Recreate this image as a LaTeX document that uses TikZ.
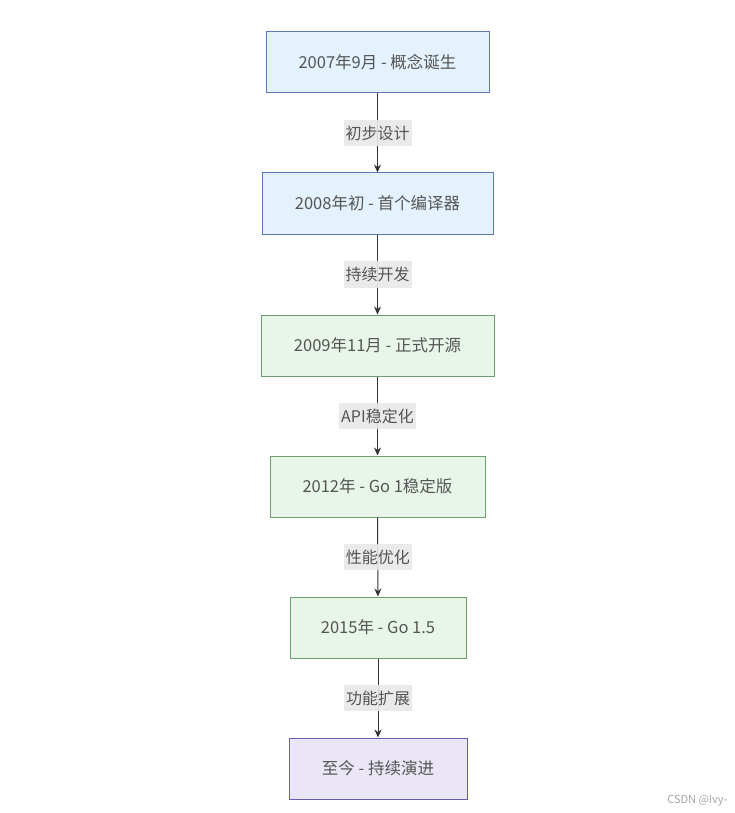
\documentclass[tikz,border=0pt]{standalone}
\usepackage{fontspec}
\setmainfont{Noto Sans CJK SC}
\usetikzlibrary{arrows.meta}
\definecolor{txt}{HTML}{555555}
\definecolor{bfill}{HTML}{E3F2FD}
\definecolor{bdraw}{HTML}{5A78B8}
\definecolor{gfill}{HTML}{E8F5E9}
\definecolor{gdraw}{HTML}{6E9E6E}
\definecolor{pfill}{HTML}{EAE6F5}
\definecolor{pdraw}{HTML}{6A5AB8}
\definecolor{lblbg}{HTML}{E8E8E8}
\definecolor{edge}{HTML}{333333}
\tikzset{
  box/.style={draw, line width=1pt, minimum height=61pt, inner sep=0pt, text=txt, font=\fontsize{16.5}{19}\selectfont},
  bluebox/.style={box, fill=bfill, draw=bdraw},
  greenbox/.style={box, fill=gfill, draw=gdraw},
  purplebox/.style={box, fill=pfill, draw=pdraw},
  conn/.style={draw=edge, line width=1pt, -{Stealth[length=8pt,width=7pt]}},
  lbl/.style={fill=lblbg, text=txt, font=\fontsize{16}{19}\selectfont, inner xsep=2pt, inner ysep=6pt, fill opacity=0.9, text opacity=1}
}
\begin{document}
\begin{tikzpicture}[x=1pt,y=-1pt]
\useasboundingbox (0,0) rectangle (734,813);
\fill[white] (0,0) rectangle (734,813);
\node[bluebox, minimum width=223pt] (n1) at (377.5,62.5) {2007年9月 - 概念诞生};
\node[bluebox, minimum width=231pt] (n2) at (377.5,203.5) {2008年初 - 首个编译器};
\node[greenbox, minimum width=233pt] (n3) at (377.5,345.5) {2009年11月 - 正式开源};
\node[greenbox, minimum width=215pt] (n4) at (377.5,486.5) {2012年 - Go 1稳定版};
\node[greenbox, minimum width=176pt] (n5) at (378,627.5) {2015年 - Go 1.5};
\node[purplebox, minimum width=178pt] (n6) at (378,768.5) {至今 - 持续演进};
\draw[conn] (n1) -- node[lbl] {初步设计} (n2);
\draw[conn] (n2) -- node[lbl] {持续开发} (n3);
\draw[conn] (n3) -- node[lbl] {API稳定化} (n4);
\draw[conn] (n4) -- node[lbl] {性能优化} (n5);
\draw[conn] (n5) -- node[lbl] {功能扩展} (n6);
\node[text=black!35, font=\fontsize{11}{13}\selectfont, anchor=east] (wm) at (731,801) {CSDN @Ivy-};
\end{tikzpicture}
\end{document}
